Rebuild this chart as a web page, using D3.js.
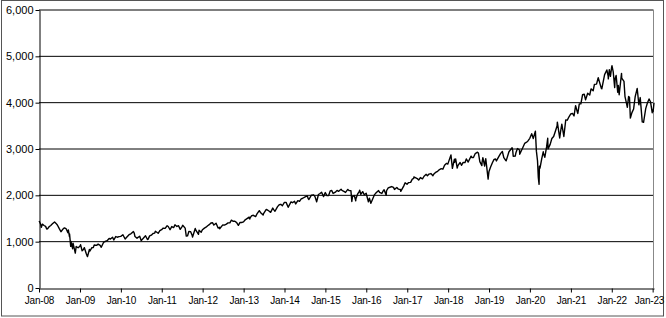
<!DOCTYPE html>
<html><head><meta charset="utf-8">
<script src="https://cdn.jsdelivr.net/npm/d3@7"></script>
<style>html,body{margin:0;padding:0;background:#fff;}svg{display:block;}</style>
</head><body>
<svg id="c" width="666" height="318"></svg>
<script>
const dates = [
"2008-01-02","2008-01-15","2008-01-22","2008-01-31","2008-02-15","2008-02-29","2008-03-10","2008-03-17","2008-03-31","2008-04-15","2008-04-30","2008-05-19","2008-05-30","2008-06-13","2008-06-30","2008-07-15","2008-07-31","2008-08-15","2008-08-29","2008-09-15","2008-09-19","2008-09-29","2008-09-30","2008-10-10","2008-10-13","2008-10-27","2008-10-31","2008-11-20","2008-11-28","2008-12-15","2008-12-31",
"2009-01-06","2009-01-20","2009-01-30","2009-02-09","2009-02-27","2009-03-09","2009-03-26","2009-03-31","2009-04-17","2009-04-30","2009-05-08","2009-05-29","2009-06-12","2009-06-30","2009-07-10","2009-07-31","2009-08-14","2009-08-31","2009-09-18","2009-09-30","2009-10-19","2009-10-30","2009-11-16","2009-11-30","2009-12-15","2009-12-31",
"2010-01-19","2010-02-08","2010-02-26","2010-03-15","2010-03-31","2010-04-23","2010-04-30","2010-05-07","2010-05-25","2010-05-31","2010-06-18","2010-07-02","2010-07-30","2010-08-09","2010-08-26","2010-08-31","2010-09-15","2010-09-30","2010-10-15","2010-10-29","2010-11-05","2010-11-30","2010-12-15","2010-12-31",
"2011-01-14","2011-01-31","2011-02-18","2011-02-28","2011-03-16","2011-03-31","2011-04-18","2011-04-29","2011-05-16","2011-05-31","2011-06-15","2011-06-30","2011-07-07","2011-07-29","2011-08-08","2011-08-19","2011-08-31","2011-09-16","2011-09-30","2011-10-03","2011-10-27","2011-10-31","2011-11-25","2011-11-30","2011-12-19","2011-12-30",
"2012-01-17","2012-01-31","2012-02-15","2012-02-29","2012-03-15","2012-03-30","2012-04-10","2012-04-30","2012-05-18","2012-05-31","2012-06-01","2012-06-29","2012-07-13","2012-07-31","2012-08-15","2012-08-31","2012-09-14","2012-09-28","2012-10-15","2012-10-31","2012-11-15","2012-11-30","2012-12-14","2012-12-31",
"2013-01-15","2013-01-31","2013-02-19","2013-02-25","2013-02-28","2013-03-14","2013-03-29","2013-04-18","2013-04-30","2013-05-21","2013-05-31","2013-06-24","2013-06-28","2013-07-22","2013-07-31","2013-08-15","2013-08-30","2013-09-18","2013-09-30","2013-10-08","2013-10-31","2013-11-15","2013-11-29","2013-12-13","2013-12-31",
"2014-01-15","2014-02-03","2014-02-28","2014-03-14","2014-03-31","2014-04-11","2014-04-30","2014-05-15","2014-05-30","2014-06-13","2014-06-30","2014-07-24","2014-07-31","2014-08-07","2014-08-29","2014-09-18","2014-09-30","2014-10-15","2014-10-31","2014-11-14","2014-11-28","2014-12-16","2014-12-31",
"2015-01-15","2015-01-30","2015-02-13","2015-02-27","2015-03-11","2015-03-31","2015-04-15","2015-04-30","2015-05-21","2015-05-29","2015-06-15","2015-06-30","2015-07-20","2015-07-31","2015-08-17","2015-08-25","2015-08-31","2015-09-16","2015-09-29","2015-09-30","2015-10-15","2015-10-30","2015-11-03","2015-11-13","2015-11-30","2015-12-14","2015-12-31",
"2016-01-20","2016-01-29","2016-02-11","2016-02-29","2016-03-15","2016-03-31","2016-04-20","2016-04-29","2016-05-19","2016-05-31","2016-06-08","2016-06-27","2016-06-30","2016-07-15","2016-07-29","2016-08-15","2016-08-31","2016-09-09","2016-09-30","2016-10-14","2016-10-31","2016-11-04","2016-11-30","2016-12-13","2016-12-30",
"2017-01-13","2017-01-31","2017-02-15","2017-02-28","2017-03-01","2017-03-31","2017-04-13","2017-04-28","2017-05-17","2017-05-31","2017-06-19","2017-06-30","2017-07-14","2017-07-31","2017-08-18","2017-08-31","2017-09-15","2017-09-29","2017-10-16","2017-10-31","2017-11-15","2017-11-30","2017-12-18","2017-12-29",
"2018-01-26","2018-02-08","2018-02-26","2018-02-28","2018-03-09","2018-03-23","2018-03-29","2018-04-18","2018-04-30","2018-05-15","2018-05-31","2018-06-12","2018-06-29","2018-07-25","2018-07-31","2018-08-15","2018-08-31","2018-09-20","2018-09-28","2018-10-11","2018-10-29","2018-10-31","2018-11-07","2018-11-23","2018-11-30","2018-12-03","2018-12-24","2018-12-31",
"2019-01-15","2019-01-31","2019-02-15","2019-02-28","2019-03-08","2019-03-29","2019-04-15","2019-04-30","2019-05-13","2019-05-31","2019-06-03","2019-06-28","2019-07-26","2019-07-31","2019-08-05","2019-08-23","2019-08-30","2019-09-12","2019-09-30","2019-10-02","2019-10-31","2019-11-15","2019-11-29","2019-12-13","2019-12-31",
"2020-01-17","2020-01-31","2020-02-19","2020-02-28","2020-03-09","2020-03-16","2020-03-23","2020-03-26","2020-03-31","2020-04-15","2020-04-29","2020-04-30","2020-05-13","2020-05-29","2020-06-08","2020-06-11","2020-06-30","2020-07-15","2020-07-31","2020-08-14","2020-08-31","2020-09-02","2020-09-23","2020-09-30","2020-10-12","2020-10-30","2020-11-16","2020-11-30","2020-12-15","2020-12-31",
"2021-01-15","2021-01-29","2021-02-12","2021-02-26","2021-03-04","2021-03-17","2021-03-31","2021-04-15","2021-04-30","2021-05-12","2021-05-31","2021-06-18","2021-06-30","2021-07-19","2021-07-30","2021-08-18","2021-08-31","2021-09-02","2021-09-30","2021-10-04","2021-10-29","2021-11-18","2021-11-30","2021-12-01","2021-12-10","2021-12-20","2021-12-31",
"2022-01-03","2022-01-14","2022-01-27","2022-01-31","2022-02-09","2022-02-23","2022-02-28","2022-03-08","2022-03-29","2022-03-31","2022-04-20","2022-04-29","2022-05-11","2022-05-20","2022-05-31","2022-06-08","2022-06-16","2022-06-30","2022-07-15","2022-07-29","2022-08-16","2022-08-31","2022-09-12","2022-09-30","2022-10-12","2022-10-31","2022-11-15","2022-11-30","2022-12-13","2022-12-28","2022-12-30",
"2023-01-05","2023-01-13"
];
const closes = [
1447,1380,1310,1378,1349,1330,1273,1276,1322,1350,1385,1426,1400,1360,1280,1214,1267,1298,1283,1193,1255,1106,1166,899,1003,848,969,752,896,868,903,
935,805,826,870,735,677,832,798,870,873,929,919,946,919,879,987,1004,1021,1068,1057,1097,1036,1110,1096,1108,1115,
1150,1057,1104,1150,1169,1217,1187,1110,1074,1089,1117,1022,1102,1127,1047,1049,1125,1141,1176,1183,1225,1181,1236,1258,
1293,1286,1343,1327,1257,1326,1305,1364,1329,1345,1265,1321,1353,1292,1119,1124,1219,1216,1131,1099,1285,1253,1159,1247,1205,1258,
1293,1312,1344,1366,1402,1408,1358,1398,1295,1310,1278,1362,1356,1379,1405,1407,1465,1441,1440,1412,1353,1416,1413,1426,
1472,1498,1530,1488,1515,1563,1569,1541,1598,1669,1631,1573,1606,1696,1686,1661,1633,1725,1682,1656,1757,1798,1806,1775,1848,
1848,1742,1859,1841,1872,1815,1884,1870,1924,1937,1960,1988,1931,1910,2003,2011,1972,1862,2018,2039,2068,1973,2059,
1993,1995,2096,2105,2040,2068,2107,2086,2131,2107,2085,2063,2128,2104,2102,1868,1972,1996,1884,1920,2024,2079,2110,2023,2080,2013,2044,
1859,1940,1829,1932,2016,2060,2102,2065,2040,2097,2119,2001,2099,2162,2174,2190,2171,2128,2168,2133,2126,2085,2199,2271,2239,
2275,2279,2350,2364,2396,2363,2329,2384,2357,2412,2453,2423,2459,2470,2425,2472,2500,2519,2557,2575,2564,2648,2690,2674,
2873,2581,2780,2714,2786,2588,2641,2708,2648,2711,2705,2787,2718,2846,2816,2818,2902,2931,2914,2728,2641,2712,2814,2633,2760,2790,2351,2507,
2610,2704,2776,2784,2743,2834,2906,2946,2812,2752,2744,2942,3026,2980,2845,2847,2926,3010,2977,2888,3038,3120,3141,3169,3231,
3330,3226,3386,2954,2747,2386,2237,2630,2585,2783,2940,2912,2820,3044,3232,3002,3100,3227,3271,3373,3500,3580,3237,3363,3535,3270,3627,3622,3695,3756,
3768,3714,3934,3811,3768,3974,3973,4170,4181,4063,4204,4166,4298,4258,4395,4400,4523,4537,4308,4300,4605,4705,4567,4513,4712,4568,4766,
4796,4663,4326,4516,4587,4226,4374,4171,4632,4530,4460,4132,4001,3901,4132,4116,3667,3785,3863,4130,4305,3955,4110,3586,3577,3872,3992,4080,4019,3783,3840,
3808,3999
];
const yTicks = [0,1000,2000,3000,4000,5000,6000];
const xTickYears = [2008,2009,2010,2011,2012,2013,2014,2015,2016,2017,2018,2019,2020,2021,2022,2023];

const svg = d3.select("#c");
const parse = d3.timeParse("%Y-%m-%d");
const data = dates.map((d,i)=>({date:parse(d), v:closes[i]}));

const x = d3.scaleTime().domain([new Date(2008,0,1), new Date(2023,0,13)]).range([39, 654]);
const y = d3.scaleLinear().domain([0,6000]).range([288, 10]);
const font = "Liberation Sans, Arial, sans-serif";

// outer border
svg.append("rect").attr("x",1.5).attr("y",0.5).attr("width",662).attr("height",315.5)
  .attr("fill","#fff").attr("stroke","#555").attr("stroke-width",1);

// gridlines
svg.append("g").selectAll("line").data(yTicks.filter(t=>t>0)).join("line")
  .attr("x1",39).attr("x2",653.5).attr("y1",d=>y(d)).attr("y2",d=>y(d))
  .attr("stroke","#000").attr("stroke-width",1);

// right plot border
svg.append("line").attr("x1",653.5).attr("x2",653.5).attr("y1",y(6000)).attr("y2",288)
  .attr("stroke","#888").attr("stroke-width",1);

// y axis
const yAxis = d3.axisLeft(y).tickValues(yTicks).tickFormat(d3.format(",")).tickSizeInner(4).tickSizeOuter(0).tickPadding(2);
const gy = svg.append("g").attr("transform","translate(39.5,0)").call(yAxis);
gy.select(".domain").attr("stroke","#000");
gy.selectAll("text").attr("font-family",font).attr("font-size","11px").attr("fill","#000");

// x axis
const xAxis = d3.axisBottom(x).tickValues(xTickYears.map(yy=>new Date(yy,0,1)))
  .tickFormat(d3.timeFormat("%b-%y")).tickSizeInner(4).tickSizeOuter(0).tickPadding(4);
const gx = svg.append("g").attr("transform","translate(0,288.5)").call(xAxis);
gx.select(".domain").attr("stroke","#000");
gx.selectAll("text").attr("font-family",font).attr("font-size","10px").attr("letter-spacing","-0.2px").attr("fill","#000");
// last label pulled inside the frame, as in the reference
gx.selectAll(".tick").filter((d,i,n)=>i===n.length-1).select("text")
  .attr("text-anchor","end").attr("dx","11");

// line
const line = d3.line().x(d=>x(d.date)).y(d=>y(d.v));
svg.append("path").datum(data).attr("d",line).attr("fill","none")
  .attr("stroke","#000").attr("stroke-width",1.4).attr("stroke-linejoin","round");
</script>
</body></html>
